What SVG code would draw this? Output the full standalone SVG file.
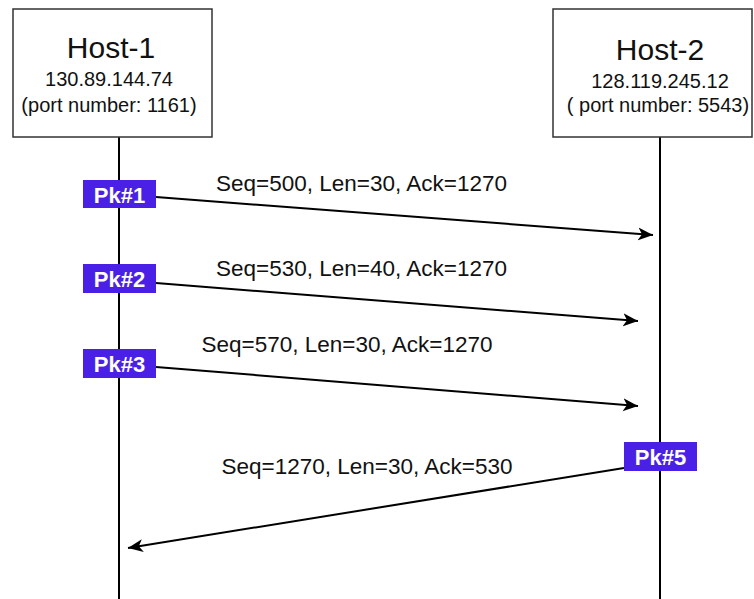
<svg xmlns="http://www.w3.org/2000/svg" width="754" height="599" viewBox="0 0 754 599">
<style>
.box{fill:#fff;stroke:#333;stroke-width:1.5}
.life{stroke:#000;stroke-width:2}
.arr{stroke:#000;stroke-width:2;fill:none;marker-end:url(#ah)}
.t{font-family:"Liberation Sans",Arial,sans-serif;fill:#111;text-anchor:middle}
.title{font-size:30px}
.sub{font-size:20px}
.lbl{font-size:22.5px}
.pk{fill:#4B20E6}
.pkt{font-family:"Liberation Sans",Arial,sans-serif;font-weight:bold;font-size:22px;fill:#fff;text-anchor:middle}
</style>
<defs>
<marker id="ah" markerUnits="userSpaceOnUse" markerWidth="16" markerHeight="14" refX="15" refY="6.5" orient="auto">
<path d="M0,0 L15,6.5 L0,13 L4,6.5 z" fill="#000"/>
</marker>
</defs>
<rect width="754" height="599" fill="#fff"/>
<g id="lifelines">
<line class="life" x1="119" y1="137" x2="119" y2="599"/>
<line class="life" x1="660" y1="137" x2="660" y2="599"/>
</g>
<g id="host1">
<rect class="box" x="13" y="9" width="199" height="128"/>
<text class="t title" x="111" y="58">Host-1</text>
<text class="t sub" x="109" y="86">130.89.144.74</text>
<text class="t sub" x="109" y="112">(port number: 1161)</text>
</g>
<g id="host2">
<rect class="box" x="553" y="9" width="199" height="128"/>
<text class="t title" x="660" y="60">Host-2</text>
<text class="t sub" x="660" y="88">128.119.245.12</text>
<text class="t sub" x="658" y="112">( port number: 5543)</text>
</g>
<g id="connectors">
<line class="arr" x1="156" y1="197" x2="653" y2="235"/>
<line class="arr" x1="156" y1="283" x2="638" y2="321"/>
<line class="arr" x1="156" y1="367" x2="638" y2="406"/>
<line class="arr" x1="624" y1="468" x2="128" y2="548"/>
</g>
<g id="labels">
<text class="t lbl" x="361.5" y="191">Seq=500, Len=30, Ack=1270</text>
<text class="t lbl" x="361.5" y="276">Seq=530, Len=40, Ack=1270</text>
<text class="t lbl" x="347" y="352">Seq=570, Len=30, Ack=1270</text>
<text class="t lbl" x="367" y="474">Seq=1270, Len=30, Ack=530</text>
</g>
<g id="pk1">
<rect class="pk" x="83" y="180" width="73" height="28"/>
<text class="pkt" x="119.5" y="202.5">Pk#1</text>
</g>
<g id="pk2">
<rect class="pk" x="83" y="264" width="73" height="29"/>
<text class="pkt" x="119.5" y="287">Pk#2</text>
</g>
<g id="pk3">
<rect class="pk" x="83" y="349" width="73" height="29"/>
<text class="pkt" x="119.5" y="372">Pk#3</text>
</g>
<g id="pk5">
<rect class="pk" x="624" y="442" width="73" height="29"/>
<text class="pkt" x="660.5" y="465">Pk#5</text>
</g>
</svg>
